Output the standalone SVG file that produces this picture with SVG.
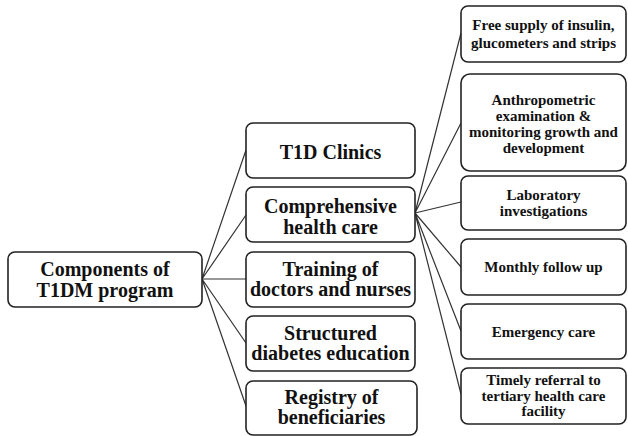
<svg xmlns="http://www.w3.org/2000/svg" width="628" height="436" viewBox="0 0 628 436">
<style>
.box{fill:#fff;stroke:#222;stroke-width:1.6}
.t{font-weight:bold;fill:#111;text-anchor:middle}
.big{font-size:20px}
.sm{font-size:15px}
.c{stroke:#333;stroke-width:1.2;fill:none}
</style>
<rect width="628" height="436" fill="#fff"/>
<g id="connectors">
<path class="c" d="M202 279 L246 150 M202 279 L246 215 M202 279 L246 279 M202 279 L246 343 M202 279 L246 406"/>
<path class="c" d="M415 213 L461 33 M415 213 L461 123 M415 213 L461 202 M415 213 L461 267 M415 213 L461 331 M415 213 L461 394"/>
</g>
<g font-family="'Liberation Serif', 'DejaVu Serif', serif">
<g id="root"><rect class="box" x="8" y="252" width="194" height="55" rx="7"/>
<text class="t big" x="105" y="276">Components of</text><text class="t big" x="105" y="297">T1DM program</text></g>
<g id="n1"><rect class="box" x="246" y="123" width="169" height="55" rx="7"/>
<text class="t big" x="330.5" y="159">T1D Clinics</text></g>
<g id="n2"><rect class="box" x="246" y="187" width="169" height="55" rx="7"/>
<text class="t big" x="330.5" y="213">Comprehensive</text><text class="t big" x="330.5" y="234">health care</text></g>
<g id="n3"><rect class="box" x="246" y="252" width="169" height="55" rx="7"/>
<text class="t big" x="330.5" y="276">Training of</text><text class="t big" x="330.5" y="296">doctors and nurses</text></g>
<g id="n4"><rect class="box" x="246" y="316" width="169" height="55" rx="7"/>
<text class="t big" x="330.5" y="340">Structured</text><text class="t big" x="330.5" y="360">diabetes education</text></g>
<g id="n5"><rect class="box" x="246" y="381" width="171" height="54" rx="7"/>
<text class="t big" x="331.5" y="404">Registry of</text><text class="t big" x="331.5" y="424">beneficiaries</text></g>
<g id="r1"><rect class="box" x="461" y="6" width="165" height="56" rx="7"/>
<text class="t sm" x="543.5" y="30">Free supply of insulin,</text><text class="t sm" x="543.5" y="48">glucometers and strips</text></g>
<g id="r2"><rect class="box" x="461" y="74" width="165" height="97" rx="9"/>
<text class="t sm" x="543.5" y="105">Anthropometric</text><text class="t sm" x="543.5" y="121">examination &amp;</text><text class="t sm" x="543.5" y="137">monitoring growth and</text><text class="t sm" x="543.5" y="153">development</text></g>
<g id="r3"><rect class="box" x="461" y="176" width="165" height="54" rx="7"/>
<text class="t sm" x="543.5" y="200">Laboratory</text><text class="t sm" x="543.5" y="216">investigations</text></g>
<g id="r4"><rect class="box" x="461" y="239" width="165" height="56" rx="7"/>
<text class="t sm" x="543.5" y="272">Monthly follow up</text></g>
<g id="r5"><rect class="box" x="461" y="304" width="165" height="55" rx="7"/>
<text class="t sm" x="543.5" y="337">Emergency care</text></g>
<g id="r6"><rect class="box" x="461" y="368" width="165" height="56" rx="7"/>
<text class="t sm" x="543.5" y="385">Timely referral to</text><text class="t sm" x="543.5" y="401">tertiary health care</text><text class="t sm" x="543.5" y="416">facility</text></g>
</g>
</svg>
